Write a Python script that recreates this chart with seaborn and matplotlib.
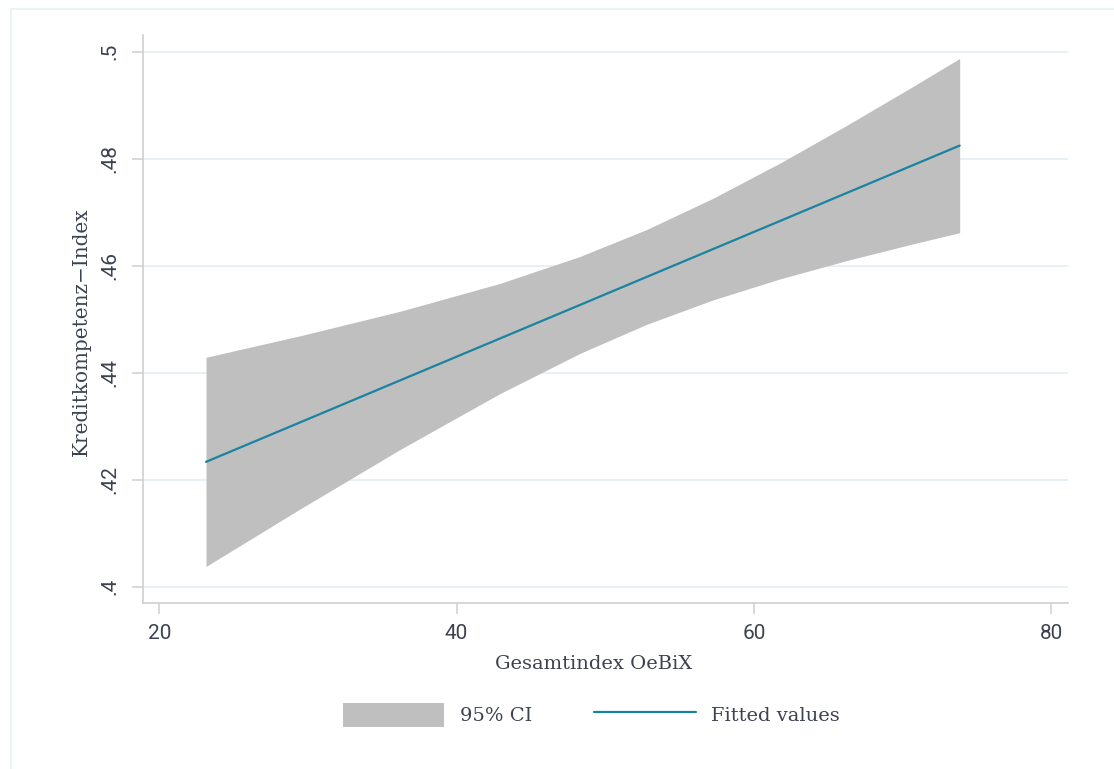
import numpy as np
import pandas as pd
import matplotlib
matplotlib.use("Agg")
import matplotlib.pyplot as plt
from matplotlib.patches import Patch, Rectangle
from matplotlib.lines import Line2D
import seaborn as sns

# Linear prediction of the credit-competence index and its 95% confidence band
oebix = [23.14, 29.46, 36.19, 42.91, 48.29, 52.78, 57.26, 61.74, 66.23, 70.71, 73.85]
fitted = [0.42333, 0.43070, 0.43855, 0.44638, 0.45265, 0.45789,
          0.46311, 0.46833, 0.47357, 0.47879, 0.48245]
ci_upper = [0.44288, 0.44689, 0.45147, 0.45668, 0.46171, 0.46675,
            0.47261, 0.47915, 0.48619, 0.49350, 0.49874]
ci_lower = [0.40378, 0.41451, 0.42563, 0.43608, 0.44359, 0.44903,
            0.45361, 0.45751, 0.46095, 0.46408, 0.46616]

y_ticks = [0.40, 0.42, 0.44, 0.46, 0.48, 0.50]
y_tick_labels = [".4", ".42", ".44", ".46", ".48", ".5"]
x_ticks = [20, 40, 60, 80]

text_col = "#3d4250"
grid_col = "#e7f1f3"
axis_col = "#cfcfcf"
band_col = "#bfbfbf"
line_col = "#1a84a0"

sns.set_theme(style="white")
plt.rcParams["font.family"] = ["DejaVu Serif"]

df = pd.DataFrame({"oebix": oebix, "fitted": fitted,
                   "lo": ci_lower, "hi": ci_upper})

fig = plt.figure(figsize=(11.14, 7.69), dpi=100)
ax = fig.add_axes([143 / 1114, 1 - 603 / 769, (1068 - 143) / 1114, (603 - 35) / 769])

ax.fill_between(df["oebix"], df["lo"], df["hi"], color=band_col, linewidth=0, zorder=2)
sns.lineplot(data=df, x="oebix", y="fitted", color=line_col, linewidth=1.6, ax=ax, zorder=3)

ax.set_xlim(18.9, 81.14)
ax.set_ylim(0.39695, 0.50312)
ax.set_xticks(x_ticks)
ax.set_yticks(y_ticks)
ax.set_yticklabels(y_tick_labels, rotation=90, va="center")
ax.grid(axis="y", color=grid_col, linewidth=1.4, zorder=0)
ax.grid(axis="x", visible=False)

for side in ["top", "right"]:
    ax.spines[side].set_visible(False)
for side in ["left", "bottom"]:
    ax.spines[side].set_color(axis_col)
    ax.spines[side].set_linewidth(1.2)

ax.tick_params(axis="both", which="major", direction="out", length=8, width=1.1,
               color=axis_col, labelcolor=text_col, labelsize=15)
ax.tick_params(axis="y", pad=9, left=True)
ax.tick_params(axis="x", pad=7, bottom=True)
for lab in ax.get_xticklabels() + ax.get_yticklabels():
    lab.set_fontfamily("Roboto")

ax.set_xlabel("Gesamtindex OeBiX", fontsize=14, color=text_col, labelpad=9)
ax.set_ylabel("Kreditkompetenz\u2212Index", fontsize=14.4, color=text_col, labelpad=7)
ax.xaxis.label.set_x(0.4876)
ax.yaxis.label.set_y(0.478)

handles = [Patch(facecolor=band_col, edgecolor="none", label="95% CI"),
           Line2D([], [], color=line_col, linewidth=1.6, label="Fitted values")]
fig.legend(handles=handles, loc="center", bbox_to_anchor=(0.531, 0.0702), ncol=2,
           frameon=False, fontsize=14, handlelength=5.2, handleheight=1.55,
           handletextpad=0.8, columnspacing=3.2, labelcolor=text_col)

# faint outer frame of the graph region
fig.patches.append(Rectangle((11 / 1114, -0.05), 1.2, 1 - 9 / 769 + 0.05,
                             transform=fig.transFigure, fill=False,
                             edgecolor=grid_col, linewidth=1.2, zorder=0))

fig.savefig("out.png", dpi=100, facecolor="white")
